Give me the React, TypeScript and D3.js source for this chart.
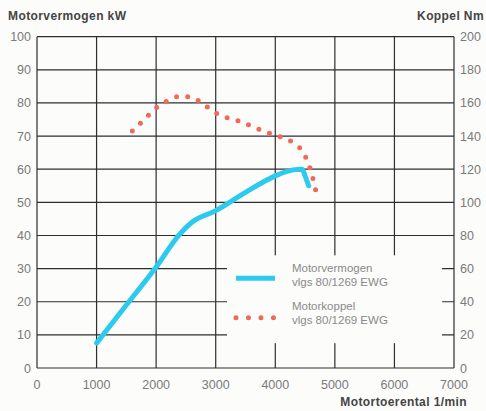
import { curveMonotoneX, line, scaleLinear } from "d3";

const rpmTicks = [0, 1000, 2000, 3000, 4000, 5000, 6000, 7000];
const kwTicks = [0, 10, 20, 30, 40, 50, 60, 70, 80, 90, 100];
const nmTicks = [0, 20, 40, 60, 80, 100, 120, 140, 160, 180, 200];

const powerRpm = [1000, 1500, 2000, 2400, 2600, 3000, 3500, 4000, 4300, 4450, 4500, 4560];
const powerKw = [7.5, 19, 30.5, 40.5, 44, 47.5, 53, 58, 59.8, 60, 58, 55];

const torqueRpm = [1600, 1800, 2000, 2200, 2400, 2600, 2800, 3000, 3200, 3400, 3600, 3800, 4000, 4200, 4300, 4450, 4550, 4620, 4660, 4700];
const torqueNm = [143, 150, 157, 161.5, 164, 163.5, 159, 154, 151, 149, 146, 143, 140.5, 138, 136, 131, 124, 116, 110, 104];

const legendLabels = ["Motorvermogen", "Motorkoppel"];
const legendNorm = "vlgs 80/1269 EWG";

export default function App() {
  const width = 486;
  const height = 411;
  const left = 37;
  const right = 454;
  const top = 36.7;
  const bottom = 368;

  const x = scaleLinear().domain([0, 7000]).range([left, right]);
  const yKw = scaleLinear().domain([0, 100]).range([bottom, top]);
  const yNm = scaleLinear().domain([0, 200]).range([bottom, top]);

  const powerPath = line<number>()
    .x((d) => x(d))
    .y((_, i) => yKw(powerKw[i]))
    .curve(curveMonotoneX)(powerRpm);

  const torquePath = line<number>()
    .x((d) => x(d))
    .y((_, i) => yNm(torqueNm[i]))
    .curve(curveMonotoneX)(torqueRpm);

  const gridColor = "#2e2e2e";
  const labelColor = "#7a7a7a";
  const bg = "#fcfcfb";
  const font = "'Liberation Sans', Arial, sans-serif";

  // legend area knocks out the grid
  const gapX0 = x(3190);
  const gapX1 = x(6800);
  const gapY0 = yKw(34);
  const gapY1 = yKw(7.5);

  const legendX = x(3340);
  const legendTextX = x(4280);

  return (
    <div style={{ position: "absolute", left: 0, top: 0 }}>
      <svg width={width} height={height} viewBox={`0 0 ${width} ${height}`} style={{ display: "block", background: bg }}>
        {kwTicks.map((t) => (
          <line key={`h${t}`} x1={left} x2={right} y1={yKw(t)} y2={yKw(t)} stroke={gridColor} strokeWidth={1.2} />
        ))}
        {rpmTicks.map((t) => (
          <line key={`v${t}`} x1={x(t)} x2={x(t)} y1={top} y2={bottom} stroke={gridColor} strokeWidth={1.2} />
        ))}
        <rect x={gapX0} y={gapY0} width={gapX1 - gapX0} height={gapY1 - gapY0} fill={bg} />

        {kwTicks.map((t) => (
          <text key={`l${t}`} x={31} y={yKw(t) + 4.5} textAnchor="end" fill={labelColor} fontSize={12.5} fontFamily={font}>
            {t}
          </text>
        ))}
        {nmTicks.map((t) => (
          <text key={`r${t}`} x={460} y={yNm(t) + 4.5} textAnchor="start" fill={labelColor} fontSize={12.5} fontFamily={font}>
            {t}
          </text>
        ))}
        {rpmTicks.map((t) => (
          <text key={`x${t}`} x={x(t)} y={389} textAnchor="middle" fill={labelColor} fontSize={12.5} fontFamily={font}>
            {t}
          </text>
        ))}

        <text x={8} y={20} fill="#444" fontSize={12} fontWeight="bold" fontFamily={font} letterSpacing={0.4}>
          Motorvermogen kW
        </text>
        <text x={484} y={20} textAnchor="end" fill="#444" fontSize={12} fontWeight="bold" fontFamily={font} letterSpacing={0.4}>
          Koppel Nm
        </text>
        <text x={467} y={406} textAnchor="end" fill="#444" fontSize={12} fontWeight="bold" fontFamily={font} letterSpacing={0.4}>
          Motortoerental 1/min
        </text>

        {torquePath ? (
          <path d={torquePath} fill="none" stroke="#ef6b58" strokeWidth={5} strokeLinecap="round" strokeDasharray="0 11.3" />
        ) : null}
        {powerPath ? (
          <path d={powerPath} fill="none" stroke="#2ccbee" strokeWidth={5} strokeLinecap="round" strokeLinejoin="round" />
        ) : null}

        <line x1={legendX} x2={legendX + 39} y1={278.3} y2={278.3} stroke="#2ccbee" strokeWidth={5} />
        <line x1={legendX} x2={legendX + 41} y1={317.7} y2={317.7} stroke="#ef6b58" strokeWidth={5} strokeLinecap="round" strokeDasharray="0 12.5" />
        {legendLabels.map((label, i) => (
          <text key={label} x={legendTextX} fill="#8a8a8a" fontSize={11.5} fontFamily={font}>
            <tspan x={legendTextX} y={272 + i * 38}>{label}</tspan>
            <tspan x={legendTextX} y={286 + i * 38}>{legendNorm}</tspan>
          </text>
        ))}
      </svg>
    </div>
  );
}
